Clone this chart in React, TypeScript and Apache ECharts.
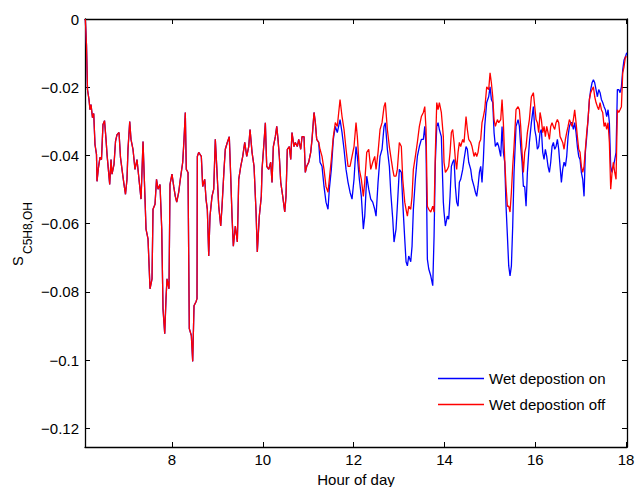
import React, { useEffect, useRef } from "react";
import * as echarts from "echarts";

// Shared part (both runs coincide before ~11.25 h)
const commonHours = [
  6.09, 6.116, 6.138, 6.171, 6.193, 6.215, 6.248, 6.275, 6.303, 6.336,
  6.347, 6.38, 6.413, 6.446, 6.479, 6.513, 6.546, 6.568, 6.627, 6.656,
  6.678, 6.722, 6.755, 6.788, 6.832, 6.865, 6.898, 6.942, 6.975, 7.008,
  7.03, 7.068, 7.096, 7.14, 7.184, 7.228, 7.272, 7.317, 7.361, 7.405,
  7.427, 7.471, 7.515, 7.559, 7.581, 7.625, 7.658, 7.691, 7.735, 7.773,
  7.801, 7.839, 7.867, 7.889, 7.933, 7.955, 7.999, 8.037, 8.072, 8.103,
  8.147, 8.182, 8.235, 8.264, 8.292, 8.314, 8.352, 8.38, 8.425, 8.455,
  8.484, 8.528, 8.55, 8.557, 8.587, 8.645, 8.675, 8.72, 8.748, 8.777,
  8.808, 8.836, 8.88, 8.918, 8.953, 8.984, 9.028, 9.072, 9.101, 9.145,
  9.173, 9.217, 9.261, 9.292, 9.321, 9.35, 9.394, 9.438, 9.469, 9.513,
  9.557, 9.601, 9.645, 9.689, 9.718, 9.762, 9.806, 9.85, 9.878, 9.922,
  9.966, 9.982, 10.019, 10.055, 10.085, 10.13, 10.173, 10.202, 10.231, 10.275,
  10.306, 10.334, 10.363, 10.394, 10.438, 10.482, 10.51, 10.539, 10.583, 10.614,
  10.642, 10.686, 10.715, 10.759, 10.79, 10.834, 10.863, 10.907, 10.935, 10.966,
  11.01, 11.054, 11.083, 11.127, 11.156, 11.186, 11.23,
];
const commonValues = [
  0, -0.0076, -0.0207, -0.0236, -0.0266, -0.0251, -0.0289, -0.0277, -0.0368, -0.0397,
  -0.0476, -0.0435, -0.0406, -0.0412, -0.0309, -0.0298, -0.0353, -0.0397, -0.0485, -0.0412,
  -0.0455, -0.0426, -0.0359, -0.0339, -0.0333, -0.0406, -0.0441, -0.0485, -0.0514, -0.047,
  -0.0382, -0.0301, -0.0353, -0.0382, -0.0441, -0.0412, -0.047, -0.0528, -0.0359, -0.0528,
  -0.0616, -0.0645, -0.0791, -0.0762, -0.0558, -0.0543, -0.047, -0.0499, -0.0485, -0.0616,
  -0.085, -0.0923, -0.082, -0.0762, -0.0791, -0.0485, -0.0455, -0.0491, -0.052, -0.0537,
  -0.0508, -0.047, -0.042, -0.0353, -0.0274, -0.0441, -0.045, -0.0908, -0.0928, -0.1004,
  -0.0841, -0.0829, -0.082, -0.0403, -0.0391, -0.0403, -0.0491, -0.047, -0.0528, -0.0558,
  -0.0695, -0.0578, -0.052, -0.0499, -0.0353, -0.0432, -0.0549, -0.0607, -0.0549, -0.0441,
  -0.0382, -0.0362, -0.0345, -0.0461, -0.0578, -0.0666, -0.0607, -0.0654, -0.047, -0.0432,
  -0.0403, -0.0362, -0.0403, -0.0374, -0.0324, -0.0391, -0.0432, -0.0566, -0.0683, -0.0578,
  -0.052, -0.0441, -0.0374, -0.0304, -0.0432, -0.0441, -0.042, -0.0479, -0.0374, -0.0345,
  -0.0315, -0.0353, -0.0403, -0.0479, -0.052, -0.0566, -0.052, -0.0382, -0.0374, -0.0412,
  -0.0333, -0.0374, -0.0362, -0.0374, -0.0353, -0.0382, -0.0345, -0.0345, -0.045, -0.0432,
  -0.042, -0.0391, -0.0353, -0.0274, -0.0304, -0.0353, -0.0362,
];

// Diverging part
const lateHours = [
  11.259, 11.303, 11.347, 11.391, 11.435, 11.464, 11.508, 11.552, 11.596, 11.64,
  11.7, 11.744, 11.788, 11.832, 11.876, 11.92, 11.964, 12.008, 12.052, 12.081,
  12.125, 12.169, 12.213, 12.244, 12.288, 12.332, 12.376, 12.42, 12.464, 12.493,
  12.537, 12.581, 12.625, 12.669, 12.698, 12.742, 12.786, 12.817, 12.861, 12.889,
  12.933, 12.962, 13.006, 13.05, 13.081, 13.125, 13.154, 13.183, 13.213, 13.257,
  13.286, 13.315, 13.359, 13.403, 13.447, 13.491, 13.535, 13.566, 13.594, 13.623,
  13.654, 13.698, 13.742, 13.771, 13.799, 13.83, 13.859, 13.887, 13.931, 13.975,
  13.99, 14.02, 14.064, 14.093, 14.123, 14.152, 14.181, 14.211, 14.24, 14.269,
  14.299, 14.328, 14.357, 14.402, 14.431, 14.475, 14.504, 14.534, 14.578, 14.607,
  14.651, 14.681, 14.71, 14.739, 14.769, 14.798, 14.827, 14.857, 14.886, 14.93,
  14.974, 15.004, 15.033, 15.063, 15.092, 15.121, 15.165, 15.195, 15.239, 15.268,
  15.297, 15.327, 15.356, 15.386, 15.415, 15.444, 15.474, 15.503, 15.532, 15.576,
  15.621, 15.65, 15.679, 15.709, 15.738, 15.767, 15.797, 15.826, 15.87, 15.914,
  15.958, 15.988, 16.017, 16.046, 16.076, 16.105, 16.134, 16.164, 16.193, 16.222,
  16.252, 16.281, 16.311, 16.34, 16.369, 16.399, 16.428, 16.457, 16.487, 16.516,
  16.546, 16.575, 16.604, 16.634, 16.663, 16.692, 16.722, 16.751, 16.78, 16.81,
  16.839, 16.868, 16.898, 16.927, 16.957, 16.986, 17.015, 17.045, 17.074, 17.103,
  17.133, 17.162, 17.192, 17.221, 17.25, 17.28, 17.309, 17.338, 17.368, 17.397,
  17.427, 17.456, 17.485, 17.515, 17.544, 17.573, 17.603, 17.632, 17.661, 17.691,
  17.72, 17.75, 17.779, 17.808, 17.838, 17.867, 17.897, 17.926, 17.955, 17.985,
  18.014,
];
const lateOn = [
  -0.042, -0.0432, -0.0491, -0.0537, -0.0558, -0.0499, -0.0441, -0.0353, -0.0315, -0.0333,
  -0.0295, -0.0333, -0.0382, -0.0441, -0.0479, -0.0508, -0.0528, -0.047, -0.0374, -0.0403,
  -0.047, -0.052, -0.0616, -0.0578, -0.0461, -0.0499, -0.0528, -0.0537, -0.0558, -0.0578,
  -0.0479, -0.0403, -0.0382, -0.0315, -0.0304, -0.0382, -0.0432, -0.0508, -0.0587, -0.0654,
  -0.0616, -0.0549, -0.0441, -0.045, -0.0537, -0.0645, -0.0712, -0.0724, -0.0695, -0.0712,
  -0.0666, -0.0558, -0.047, -0.0403, -0.0374, -0.0353, -0.0353, -0.0315, -0.0374, -0.0704,
  -0.0733, -0.0753, -0.0782, -0.0636, -0.042, -0.0315, -0.0304, -0.0324, -0.0345, -0.0537,
  -0.0566, -0.0607, -0.0578, -0.0587, -0.052, -0.0432, -0.042, -0.0412, -0.0491, -0.0537,
  -0.0549, -0.0479, -0.047, -0.0441, -0.0412, -0.0374, -0.0382, -0.042, -0.0441, -0.047,
  -0.0491, -0.0508, -0.052, -0.0491, -0.045, -0.0432, -0.0479, -0.0412, -0.0315, -0.0245,
  -0.0228, -0.0199, -0.0236, -0.0245, -0.0333, -0.0374, -0.0362, -0.0374, -0.0403, -0.0315,
  -0.0391, -0.042, -0.0549, -0.0636, -0.0724, -0.0753, -0.0724, -0.0607, -0.045, -0.0315,
  -0.0295, -0.0315, -0.0374, -0.042, -0.0491, -0.0491, -0.0549, -0.045, -0.0362, -0.0304,
  -0.0257, -0.0324, -0.0345, -0.0382, -0.0374, -0.0333, -0.0324, -0.0391, -0.0412, -0.0382,
  -0.0403, -0.0432, -0.045, -0.042, -0.0374, -0.0362, -0.0382, -0.0374, -0.0353, -0.0382,
  -0.0432, -0.0479, -0.0441, -0.042, -0.0432, -0.0403, -0.0345, -0.0315, -0.0304, -0.0304,
  -0.0324, -0.0304, -0.0333, -0.0374, -0.0403, -0.0412, -0.045, -0.047, -0.052, -0.0391,
  -0.0345, -0.0295, -0.0236, -0.0207, -0.0187, -0.0178, -0.0187, -0.0207, -0.0228, -0.0207,
  -0.0216, -0.0236, -0.0245, -0.0257, -0.0266, -0.0286, -0.0266, -0.0304, -0.0432, -0.045,
  -0.0432, -0.0412, -0.0391, -0.0207, -0.0207, -0.0216, -0.0199, -0.0149, -0.012, -0.0111,
  -0.0099,
];
const lateOff = [
  -0.0382, -0.0403, -0.0441, -0.0491, -0.0508, -0.047, -0.0412, -0.0345, -0.0304, -0.0315,
  -0.0236, -0.0286, -0.0324, -0.0382, -0.0432, -0.0432, -0.0403, -0.0374, -0.0304, -0.0345,
  -0.0441, -0.047, -0.052, -0.0479, -0.0391, -0.0382, -0.0441, -0.042, -0.0403, -0.0441,
  -0.0391, -0.0324, -0.0304, -0.0257, -0.0245, -0.0324, -0.0374, -0.0403, -0.0441, -0.0461,
  -0.0461, -0.0441, -0.0362, -0.0374, -0.047, -0.0537, -0.0558, -0.0578, -0.0549, -0.0558,
  -0.052, -0.0441, -0.0403, -0.0362, -0.0315, -0.0286, -0.0274, -0.0257, -0.0324, -0.0549,
  -0.0558, -0.0566, -0.0549, -0.0566, -0.0391, -0.0245, -0.0266, -0.0245, -0.0274, -0.0345,
  -0.042, -0.045, -0.0441, -0.0432, -0.0391, -0.0333, -0.0324, -0.0362, -0.0412, -0.0441,
  -0.0391, -0.0362, -0.0374, -0.0353, -0.0362, -0.0286, -0.0324, -0.0353, -0.0362, -0.0374,
  -0.0403, -0.0391, -0.0403, -0.0391, -0.0362, -0.0353, -0.0304, -0.0286, -0.0266, -0.0199,
  -0.0207, -0.0158, -0.0187, -0.0228, -0.0295, -0.0315, -0.0295, -0.0304, -0.0295, -0.0236,
  -0.0304, -0.0412, -0.0491, -0.0549, -0.0549, -0.0566, -0.0508, -0.0432, -0.0374, -0.0266,
  -0.0257, -0.0266, -0.0315, -0.0391, -0.045, -0.0391, -0.0374, -0.0333, -0.0295, -0.0228,
  -0.0216, -0.0257, -0.0295, -0.0304, -0.0333, -0.0274, -0.0295, -0.0333, -0.0315, -0.0345,
  -0.0315, -0.0333, -0.0353, -0.0315, -0.0304, -0.0315, -0.0324, -0.0304, -0.0295, -0.0304,
  -0.0345, -0.0353, -0.0362, -0.0382, -0.0353, -0.0333, -0.0315, -0.0295, -0.0304, -0.0315,
  -0.0295, -0.0266, -0.0304, -0.0345, -0.0382, -0.0391, -0.0432, -0.045, -0.0432, -0.0382,
  -0.0333, -0.0295, -0.0236, -0.0216, -0.0207, -0.0199, -0.0228, -0.0245, -0.0257, -0.0266,
  -0.0245, -0.0266, -0.0274, -0.0315, -0.0304, -0.0324, -0.0304, -0.0362, -0.0499, -0.045,
  -0.042, -0.045, -0.047, -0.0266, -0.0274, -0.0266, -0.0257, -0.0158, -0.014, -0.0111,
  -0.0111,
];

const xTicks = [8, 10, 12, 14, 16, 18];
const yTicks = [0, -0.02, -0.04, -0.06, -0.08, -0.1, -0.12];
const seriesNames = ["Wet depostion on", "Wet depostion off"];
const yLabelMain = "S";
const yLabelSub = "C5H8,OH";

const FONT = "'Liberation Sans', Arial, Helvetica, sans-serif";

function pairs(h: number[], v: number[]) {
  const n = Math.min(h.length, v.length);
  const out: number[][] = [];
  for (let i = 0; i < n; i++) out.push([h[i], v[i]]);
  return out;
}

export default function App() {
  const ref = useRef<HTMLDivElement>(null);
  useEffect(() => {
    if (!ref.current) return;
    const chart = echarts.init(ref.current, null, { renderer: "svg" });
    const onData = pairs(commonHours, commonValues).concat(pairs(lateHours, lateOn));
    const offData = pairs(commonHours, commonValues).concat(pairs(lateHours, lateOff));
    const axisColor = "#000";
    const xMin = 6.083;
    const xMax = 18.02;
    const yMin = -0.1255;
    const yMax = 0;
    const fmtY = (v: number) =>
      Math.abs(v) < 1e-9 ? "0" : "\u2212" + String(parseFloat(Math.abs(v).toFixed(3)));
    const baseX = {
      type: "value",
      min: xMin,
      max: xMax,
      splitLine: { show: false },
      axisLine: { show: true, onZero: false, lineStyle: { color: axisColor, width: 1.3 } },
      axisTick: { show: true, inside: true, length: 5, customValues: xTicks, lineStyle: { color: axisColor, width: 1 } },
    };
    const baseY = {
      type: "value",
      min: yMin,
      max: yMax,
      splitLine: { show: false },
      axisLine: { show: true, onZero: false, lineStyle: { color: axisColor, width: 1.3 } },
      axisTick: { show: true, inside: true, length: 5, customValues: yTicks, lineStyle: { color: axisColor, width: 1 } },
    };
    chart.setOption({
      animation: false,
      backgroundColor: "#fff",
      grid: { left: 85, right: 8, top: 19, bottom: 40, containLabel: false, outerBoundsMode: "none" },
      legend: {
        orient: "vertical",
        left: 438,
        top: 371,
        padding: 0,
        icon: "rect",
        itemWidth: 46,
        itemHeight: 1.5,
        itemGap: 11,
        data: seriesNames,
        textStyle: { fontFamily: FONT, fontSize: 15, color: "#000" },
      },
      graphic: [
        {
          type: "group",
          x: 22,
          y: 266,
          rotation: Math.PI / 2,
          children: [
            {
              type: "text",
              x: 0,
              y: -4.5,
              style: {
                text: yLabelMain,
                font: "14.5px " + FONT,
                fill: "#000",
                textAlign: "left",
                textVerticalAlign: "middle",
                verticalAlign: "middle",
              },
            },
            {
              type: "text",
              x: 12,
              y: 5.5,
              style: {
                text: yLabelSub,
                font: "12px " + FONT,
                fill: "#000",
                textAlign: "left",
                textVerticalAlign: "middle",
                verticalAlign: "middle",
              },
            },
          ],
        },
      ],
      xAxis: [
        {
          ...baseX,
          position: "bottom",
          name: "Hour of day",
          nameLocation: "middle",
          nameGap: 23,
          nameTextStyle: { fontFamily: FONT, fontSize: 15, color: "#000" },
          axisLabel: { show: true, customValues: xTicks, fontFamily: FONT, fontSize: 15, color: "#000", margin: 5 },
        },
        {
          ...baseX,
          position: "top",
          axisLabel: { show: false },
        },
      ],
      yAxis: [
        {
          ...baseY,
          position: "left",
          axisLabel: { show: true, customValues: yTicks, fontFamily: FONT, fontSize: 15, color: "#000", margin: 6, formatter: fmtY },
        },
        {
          ...baseY,
          position: "right",
          axisLabel: { show: false },
        },
      ],
      series: [
        {
          name: seriesNames[0],
          type: "line",
          data: onData,
          symbol: "none",
          showSymbol: false,
          lineStyle: { color: "#0000ff", width: 1.3 },
          itemStyle: { color: "#0000ff" },
        },
        {
          name: seriesNames[1],
          type: "line",
          data: offData,
          symbol: "none",
          showSymbol: false,
          lineStyle: { color: "#ff0000", width: 1.3 },
          itemStyle: { color: "#ff0000" },
        },
      ],
    });
    return () => chart.dispose();
  }, []);
  return (
    <div
      ref={ref}
      style={{ position: "absolute", left: 0, top: 0, width: 635, height: 487, background: "#fff" }}
    />
  );
}
